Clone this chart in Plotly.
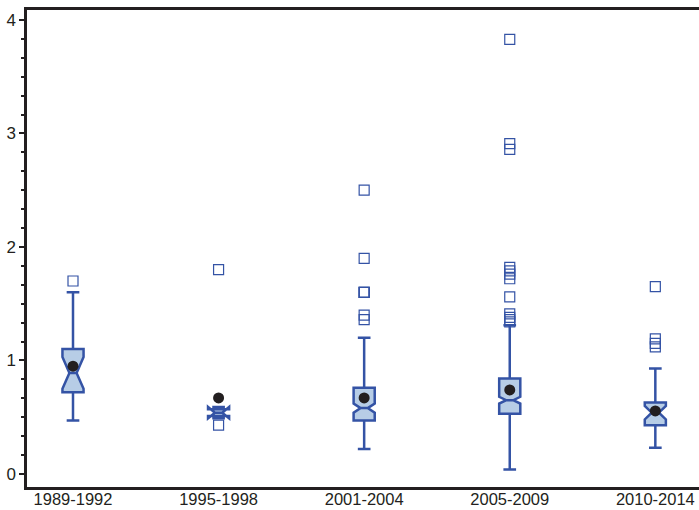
import plotly.graph_objects as go

# periods on the x axis
periods = ["1989-1992", "1995-1998", "2001-2004", "2005-2009", "2010-2014"]

# box statistics
q1 = [0.72, 0.51, 0.47, 0.53, 0.43]
median = [0.89, 0.54, 0.58, 0.65, 0.54]
q3 = [1.10, 0.57, 0.76, 0.84, 0.63]
lower_whisker = [0.47, 0.50, 0.22, 0.04, 0.23]
upper_whisker = [1.60, 0.59, 1.20, 1.31, 0.93]
notch_half = [0.14, 0.05, 0.04, 0.03, 0.06]
means = [0.95, 0.67, 0.67, 0.74, 0.555]

# outliers per period
outliers = {
    "1989-1992": [1.70],
    "1995-1998": [1.80, 0.43],
    "2001-2004": [2.50, 1.90, 1.60, 1.60, 1.60, 1.40, 1.36],
    "2005-2009": [3.83, 2.91, 2.86, 1.82, 1.79, 1.76, 1.72, 1.56, 1.41, 1.38, 1.36, 1.34],
    "2010-2014": [1.65, 1.19, 1.15, 1.12],
}

blue = "#3453a5"
fill = "#b7cde6"

fig = go.Figure()

fig.add_trace(go.Box(
    x=periods,
    q1=q1, median=median, q3=q3,
    lowerfence=lower_whisker, upperfence=upper_whisker,
    notchspan=notch_half,
    notched=True, notchwidth=0.33,
    width=0.145, whiskerwidth=0.6,
    boxpoints=False,
    line=dict(color=blue, width=2.5),
    fillcolor=fill,
    showlegend=False,
    hoverinfo="skip",
))

ox, oy = [], []
for p in periods:
    for v in outliers[p]:
        ox.append(p)
        oy.append(v)

fig.add_trace(go.Scatter(
    x=ox, y=oy, mode="markers",
    marker=dict(symbol="square-open", size=10, color=blue, line=dict(width=1.2)),
    showlegend=False, hoverinfo="skip",
))

fig.add_trace(go.Scatter(
    x=periods, y=means, mode="markers",
    marker=dict(symbol="circle", size=11, color="#231f20"),
    showlegend=False, hoverinfo="skip",
))

fig.update_layout(
    width=699, height=510,
    margin=dict(l=27, r=0, t=10, b=23),
    plot_bgcolor="white", paper_bgcolor="white",
    font=dict(family="Liberation Sans, Arial", size=17, color="#231f20"),
    xaxis=dict(
        type="category", range=[-0.316, 4.30], automargin=False,
        showline=True, linecolor="#231f20", linewidth=2.5, mirror=True,
        showgrid=False, zeroline=False, ticks="",
        ticklabelstandoff=-5,
        tickfont=dict(size=16.5),
    ),
    yaxis=dict(
        range=[-0.115, 4.088], automargin=False,
        tickvals=[0, 1, 2, 3, 4],
        showline=True, linecolor="#231f20", linewidth=2.5,
        showgrid=False, zeroline=False,
        ticks="outside", ticklen=5, tickwidth=2, tickcolor="#231f20",
        minor=dict(dtick=1/6, tick0=0, ticks="outside", ticklen=3, tickwidth=2,
                   tickcolor="#231f20", showgrid=False),
        tickfont=dict(size=17),
    ),
)

fig.write_html("out.html", config={"displayModeBar": False},
               post_script="document.body.style.margin='0';")
